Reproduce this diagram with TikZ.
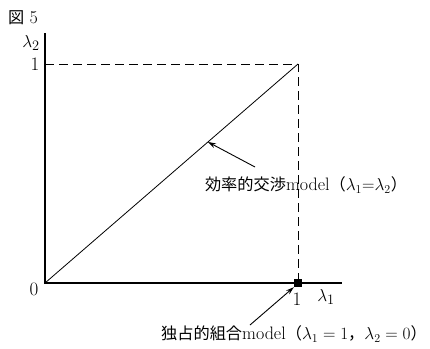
\documentclass[tikz,border=0pt]{standalone}
\usepackage{fontspec}
\newfontfamily\cjk[Scale=0.9]{Noto Sans CJK JP}
\usetikzlibrary{arrows.meta,calc}

\tikzset{
  axis/.style={line width=1.6pt},
  guide/.style={dashed, dash pattern=on 9pt off 5pt, line width=0.8pt},
  pointer/.style={-{Stealth[length=8pt,width=5pt]}, line width=0.9pt},
  marker/.style={fill=black, minimum size=8pt, inner sep=0pt},
  lbl/.style={font=\fontsize{18}{20}\selectfont, inner sep=0pt},
  tick/.style={font=\fontsize{19}{20}\selectfont, inner sep=0pt}
}

\begin{document}
\begin{tikzpicture}[x=1pt, y=-1pt]
  \useasboundingbox (0,0) rectangle (430,348);

  % axes
  \coordinate (O) at (45,283);
  \coordinate (ytop) at (45,33);
  \coordinate (xend) at (342,283);
  \coordinate (P) at (298,64);
  \coordinate (Y1) at (45,64);
  \coordinate (X1) at (298,283);
  \draw[axis] (ytop) -- (O) -- (xend);

  % unit square guides and diagonal
  \draw[guide] (Y1) -- (P) -- (X1);
  \draw[line width=0.8pt] (O) -- (P);
  \node[marker] (mono) at (X1) {};

  % labels on axes
  \node[lbl] (fig) at (23,18) {{\cjk 図} 5};
  \node[tick] (l2) at (31,43) {$\lambda_2$};
  \node[tick] (one2) at (35,64) {1};
  \node[tick] (zero) at (34,289) {0};
  \node[tick] (one1) at (297,299) {1};
  \node[tick] (l1) at (326,297) {$\lambda_1$};

  % annotations
  \coordinate (d1) at ($(O)!0.644!(P)$);
  \node[lbl] (eff) at (306,185) {{\cjk 効率的交渉}model{\cjk （}$\lambda_1{=}\lambda_2${\cjk ）}};
  \coordinate (a1) at (255,167);
  \draw[pointer] (a1) -- (d1);

  \node[lbl] (union) at (294,334) {{\cjk 独占的組合}model{\cjk （}$\lambda_1=1${\cjk ，}$\lambda_2=0${\cjk ）}};
  \coordinate (a2) at (250,325);
  \draw[pointer] (a2) -- (mono.south west);
\end{tikzpicture}
\end{document}
